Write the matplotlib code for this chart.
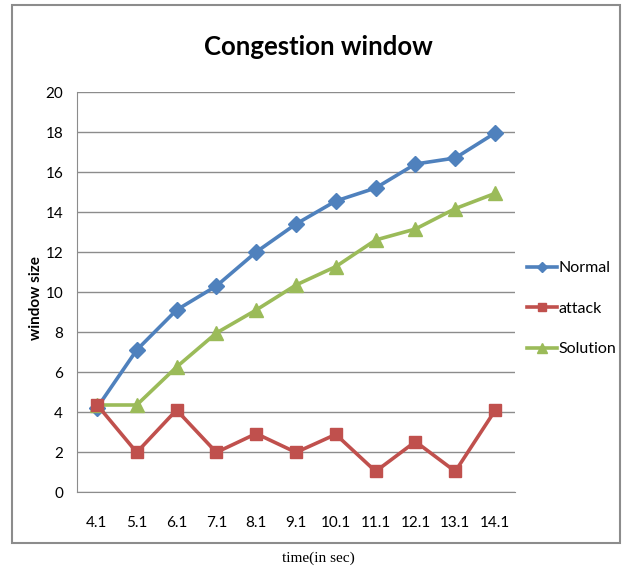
import matplotlib
matplotlib.use("Agg")
import matplotlib.pyplot as plt
from matplotlib.patches import Rectangle

categories = ["4.1", "5.1", "6.1", "7.1", "8.1", "9.1", "10.1", "11.1", "12.1", "13.1", "14.1"]
normal = [4.2, 7.1, 9.1, 10.3, 12.0, 13.4, 14.55, 15.2, 16.4, 16.7, 17.95]
attack = [4.37, 1.98, 4.1, 1.98, 2.92, 1.98, 2.88, 1.03, 2.52, 1.03, 4.08]
solution = [4.35, 4.35, 6.25, 7.95, 9.1, 10.35, 11.27, 12.6, 13.15, 14.17, 14.93]
yticks = [0, 2, 4, 6, 8, 10, 12, 14, 16, 18, 20]

W, H = 624, 568
fig = plt.figure(figsize=(W / 100, H / 100), dpi=100)

narrow = ["Lato", "DejaVu Sans"]

# outer chart border
fig.patches.append(Rectangle((12 / W, 1 - 543 / H), (620 - 12) / W, (543 - 5) / H,
                             transform=fig.transFigure, fill=False,
                             edgecolor="#8c8c8c", linewidth=1.5))

ax = fig.add_axes([77 / W, 1 - 492 / H, (515 - 77) / W, (492 - 92) / H])
x = list(range(len(categories)))

ax.plot(x, normal, color="#4F81BD", lw=2.6, marker="D", ms=8.5, label="Normal", zorder=3)
ax.plot(x, attack, color="#C0504D", lw=2.6, marker="s", ms=9, label="attack", zorder=4)
ax.plot(x, solution, color="#9BBB59", lw=2.6, marker="^", ms=10, label="Solution", zorder=3)

ax.set_xlim(-0.5, len(categories) - 0.5)
ax.set_ylim(0, 20)
ax.set_yticks(yticks)
ax.set_yticklabels([str(v) for v in yticks], family=narrow, fontsize=11)
ax.set_xticks(x)
ax.set_xticklabels(categories, family=narrow, fontsize=11)
ax.tick_params(axis="x", length=0, pad=17)
ax.tick_params(axis="y", length=0, pad=10)
ax.grid(axis="y", color="#8c8c8c", lw=1.0)
ax.set_axisbelow(True)
for s in ["top", "right"]:
    ax.spines[s].set_visible(False)
ax.spines["left"].set_color("#8c8c8c")
ax.spines["bottom"].set_color("#8c8c8c")

fig.text(318 / W, 1 - 47 / H, "Congestion window", ha="center", va="center",
         family=narrow, fontweight="bold", fontsize=18.5)
fig.text(36 / W, 1 - 298 / H, "window size", ha="center", va="center", rotation=90,
         family=narrow, fontweight="bold", fontsize=11)
fig.text(318 / W, 1 - 558 / H, "time(in sec)", ha="center", va="center",
         family=["Liberation Serif", "DejaVu Serif"], fontsize=11)

leg = fig.legend(loc="upper left", bbox_to_anchor=(527 / W, 1 - 261 / H), frameon=False,
                 prop={"family": narrow, "size": 11.5}, handlelength=1.9,
                 handletextpad=0.05, labelspacing=1.65, markerscale=0.65,
                 borderpad=0, borderaxespad=0)

fig.savefig("out.png", dpi=100)
